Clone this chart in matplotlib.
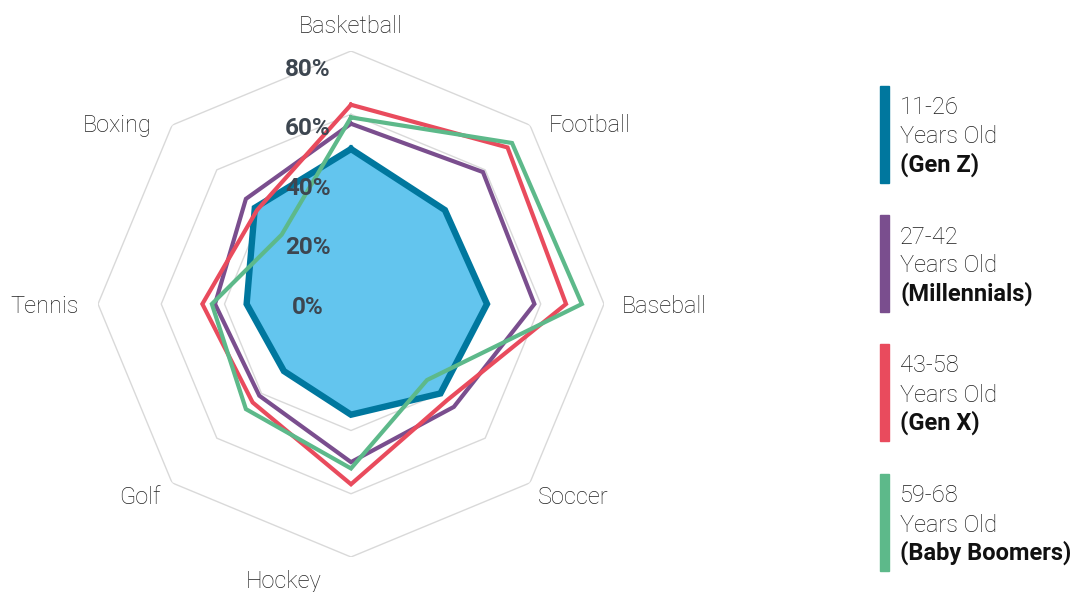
import numpy as np
import matplotlib.pyplot as plt
from matplotlib.patches import Rectangle

plt.rcParams['font.family'] = ['Roboto', 'DejaVu Sans']

# Share of each age group interested in each sport (%)
categories = ['Basketball', 'Football', 'Baseball', 'Soccer',
              'Hockey', 'Golf', 'Tennis', 'Boxing']
gen_z = [49, 42, 43, 40, 35, 30, 33, 43]
millennials = [57, 59, 58, 46, 50, 41, 43, 47]
gen_x = [63, 70, 68, 43, 57, 44, 47, 42]
boomers = [59, 72, 73, 34, 52, 47, 44, 31]

ring_levels = [20, 40, 60, 80]
tick_values = [0, 20, 40, 60, 80]
tick_labels = ['0%', '20%', '40%', '60%', '80%']

group_ages = ['11-26', '27-42', '43-58', '59-68']
group_names = ['(Gen Z)', '(Millennials)', '(Gen X)', '(Baby Boomers)']
group_colors = ['#00779E', '#7A4E8E', '#E94B5D', '#5DB98A']
genz_fill = '#63C5EE'

fig = plt.figure(figsize=(10.82, 5.92), dpi=100)
ax = fig.add_axes([98 / 1082, 35 / 592, 506 / 1082, 506 / 592], polar=True)
ax.set_theta_offset(np.pi / 2)
ax.set_theta_direction(-1)
ax.set_ylim(0, 80)
ax.axis('off')

n = len(categories)
angles = np.arange(n) * 2 * np.pi / n
closed = np.append(angles, angles[0])

def close(vals):
    return np.append(vals, vals[0])

# octagonal grid
for lev in ring_levels:
    ax.plot(closed, [lev] * (n + 1), color='#d9d9d9', lw=1, zorder=1)

# series
ax.fill(closed, close(gen_z), color=genz_fill, zorder=2, lw=0)
ax.plot(closed, close(gen_z), color=group_colors[0], lw=4.6, zorder=3,
        solid_joinstyle='miter')
for vals, col in zip([millennials, gen_x, boomers], group_colors[1:]):
    ax.plot(closed, close(vals), color=col, lw=3.0, zorder=4,
            solid_joinstyle='miter')

# category labels: (ha, x offset px, y offset px) from outer vertex
label_layout = [('center', 0, 18), ('left', 19, -7), ('left', 18, -9),
                ('left', 8, -21), ('center', -67, -31), ('right', -12, -21),
                ('right', -19, -9), ('right', -20, -7)]
for ang, name, (ha, dx, dy) in zip(angles, categories, label_layout):
    ax.annotate(name, xy=(ang, 80), xytext=(dx, dy), textcoords='offset pixels',
                ha=ha, va='baseline', fontsize=17, fontweight='light',
                color='#222222', annotation_clip=False)

# radial value labels
for v, t in zip(tick_values, tick_labels):
    ax.annotate(t, xy=(0, v * 0.94), xytext=(-43, -3), textcoords='offset pixels',
                ha='center', va='center', fontsize=17.5, fontweight='bold',
                color='#3D4650', zorder=10, annotation_clip=False)

# legend
W, H = 1082, 592
bar_tops = [86, 215, 344, 474]
for top, age, name, col in zip(bar_tops, group_ages, group_names, group_colors):
    fig.patches.append(Rectangle((880 / W, 1 - (top + 97) / H), 9 / W, 97 / H,
                                 transform=fig.transFigure, color=col))
    fig.text(900 / W, 1 - (top + 22) / H, age, fontsize=17, fontweight='light',
             color='#1a1a1a', va='center')
    fig.text(900 / W, 1 - (top + 51) / H, 'Years Old', fontsize=17,
             fontweight='light', color='#1a1a1a', va='center')
    fig.text(900 / W, 1 - (top + 79) / H, name, fontsize=17, fontweight='bold',
             color='#111111', va='center')

fig.savefig('out.png', dpi=100)
